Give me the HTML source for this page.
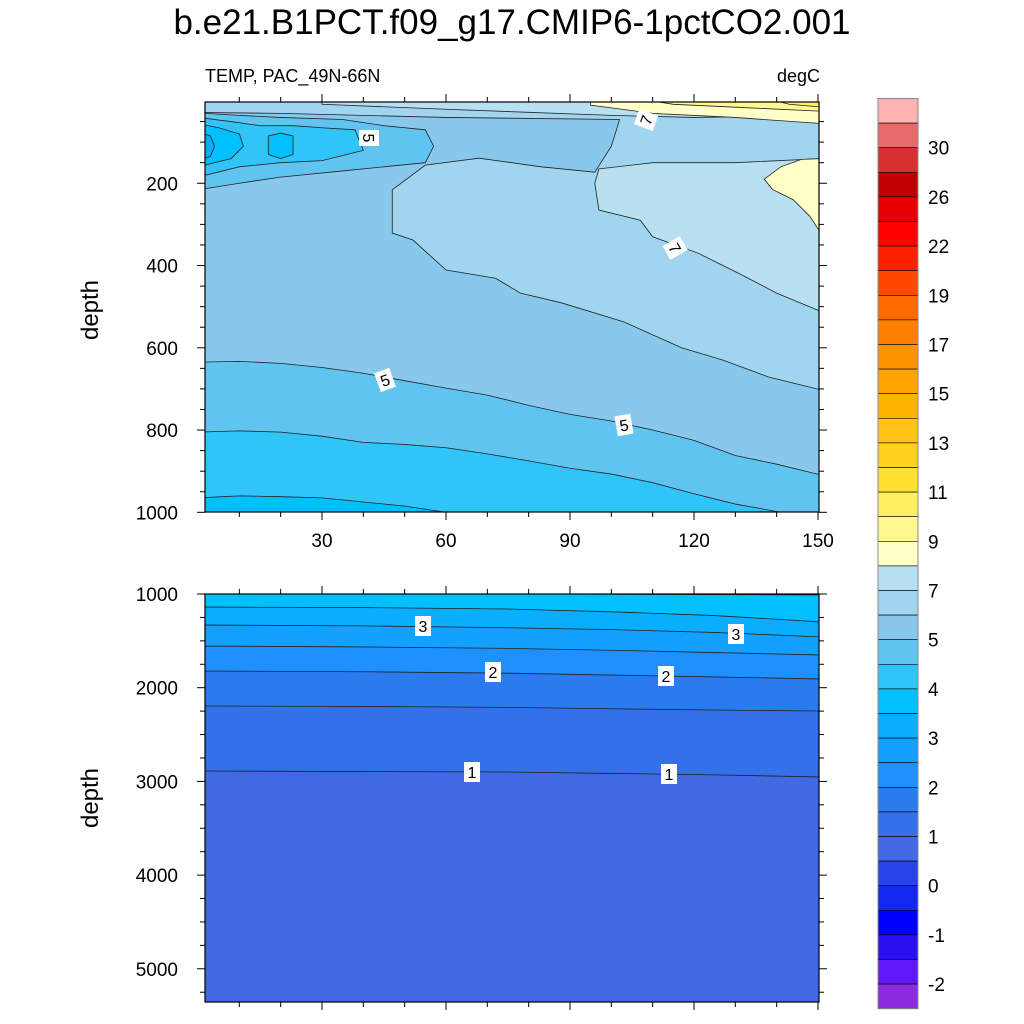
<!DOCTYPE html>
<html><head><meta charset="utf-8"><style>
html,body{margin:0;padding:0;background:#fff}
svg{display:block;font-family:"Liberation Sans",sans-serif}
</style></head><body>
<svg id="chart" width="1024" height="1024" viewBox="0 0 1024 1024" xmlns="http://www.w3.org/2000/svg">
<defs>
<clipPath id="clipTop"><rect x="205" y="102" width="614" height="410"/></clipPath>
<clipPath id="clipBot"><rect x="205" y="594" width="614" height="408"/></clipPath>
</defs>
<text x="512" y="34" font-size="35" text-anchor="middle">b.e21.B1PCT.f09_g17.CMIP6-1pctCO2.001</text>
<text x="205" y="82" font-size="18">TEMP, PAC_49N-66N</text>
<text x="820" y="82" font-size="18" text-anchor="end">degC</text>
<text transform="translate(98,310) rotate(-90)" font-size="24" text-anchor="middle">depth</text>
<text transform="translate(98,798) rotate(-90)" font-size="24" text-anchor="middle">depth</text>
<g id="topPanel"></g>
<g id="botPanel"></g>
<g id="colorbar"></g>
</svg>
<script>
// ---------- data ----------
const gridYears = [1,10,20,30,40,50,60,70,80,90,100,110,120,130,140,150];
const iso40 = [965,960,962,965,975,985,1000,1012,1020,1020,1020,1020,1020,1020,1020,1020];
const iso45 = [805,802,805,815,830,835,843,858,875,893,907,928,955,980,998,1010];
const iso50 = [635,633,638,648,662,680,698,715,740,762,778,800,825,862,883,910];
// explicit isoline polygons (year, depth)
const poly60 = [[0,0],[151,0],[151,703],[138,671],[127,630],[117,600],[103,537],[88,491],[78,467],[72,431],[60,411],[52,338],[47,321],[47,216],[55,156],[68,139],[83,160],[96,173],[100,110],[102,45],[60,40],[20,30],[0,28]];
const poly70a = [[30,0],[151,0],[151,35],[120,40],[100,35],[60,20],[30,8]];
const poly70b = [[97,165],[110,150],[130,150],[151,140],[151,513],[140,467],[131,420],[121,370],[110,330],[107,290],[97,265],[96,200]];
const poly80a = [[95,0],[151,0],[151,55],[130,40],[110,30],[95,10]];
const poly80b = [[151,140],[146,142],[141,160],[137,190],[139,215],[144,240],[148,280],[151,326]];
const poly90 = [[110,0],[151,0],[151,25],[130,15],[115,8]];
const poly100 = [[140,0],[151,0],[151,15],[143,8]];
const cold50 = [[0,29],[10,35],[20,40],[35,45],[45,60],[55,70],[57,110],[55,150],[45,160],[35,170],[20,185],[10,200],[0,216]];
const cold45 = [[0,40],[8,50],[15,60],[23,60],[30,65],[38,70],[40,120],[30,145],[20,150],[10,160],[0,185]];
const cold40a = [[0,55],[5,65],[10,80],[11,110],[8,140],[0,160]];
const cold40b = [[17,85],[20,78],[23,85],[23,130],[20,140],[17,130]];
const cold35 = [[0,75],[3,85],[4,110],[3,135],[0,145]];
// bottom panel isolines
const botYears = [1,40,75,100,125,150];
const b40 = [990,990,1000,1003,1006,1010];
const b35 = [1139,1145,1160,1190,1230,1299];
const b30 = [1331,1340,1360,1380,1410,1459];
const b25 = [1555,1565,1580,1600,1625,1651];
const b20 = [1822,1830,1845,1865,1885,1907];
const b15 = [2195,2200,2210,2225,2238,2249];
const b10 = [2889,2895,2900,2915,2930,2953];
// colorbar
const cbColors = ["#ffb3b3","#e86b6b","#d83030","#c00000","#e60000","#ff0000","#ff2000","#ff4800","#ff6a00","#ff8000","#ff9200","#ffa500","#ffb400","#ffc414","#ffd020","#ffe030","#ffee60","#fff890","#ffffc8","#b8e0f0","#a0d4ef","#88c8ec","#60c4f0","#30c4f8","#00c0ff","#0aaeff","#14a0ff","#1e90ff","#2a7cee","#3470e8","#4169e1","#2844e8","#1028f0","#0000ff","#2a10f0","#6018f8","#8a2be2"];
const cbLabels = ["30","26","22","19","17","15","13","11","9","7","5","4","3","2","1","0","-1","-2"];
const topYTicks = [200,400,600,800,1000];
const botYTicks = [1000,2000,3000,4000,5000];
const xTicks = [30,60,90,120,150];

// ---------- scales ----------
const NS = "http://www.w3.org/2000/svg";
const xS = yr => 198 + yr*4.1333;
const yT = d => 101 + d*0.4113;
const yB = d => 594 + (d-1000)*0.0937;
function mk(tag, attrs, parent){const e=document.createElementNS(NS,tag);for(const k in attrs)e.setAttribute(k,attrs[k]);parent.appendChild(e);return e;}
const topG = document.getElementById('topPanel');
const botG = document.getElementById('botPanel');
const cb = document.getElementById('colorbar');

const tg = mk('g',{'clip-path':'url(#clipTop)'},topG);
const bg = mk('g',{'clip-path':'url(#clipBot)'},botG);

function bandFromLine(g, years, depths, color, ys, name, topDepth){
  let d = `M${xS(0)},${ys(topDepth)} L${xS(151)},${ys(topDepth)}`;
  for(let i=years.length-1;i>=0;i--) d += ` L${i==years.length-1?xS(151):xS(years[i])},${ys(depths[i])}`;
  d += ` L${xS(0)},${ys(depths[0])} Z`;
  const p = mk('path',{d:d,fill:color},g);
  
  
  let l = '';
  years.forEach((y,i)=>{ l += (i?' L':'M') + (i==0?xS(0):(i==years.length-1?xS(151):xS(y))) + ',' + ys(depths[i]); });
  const ln = mk('path',{d:l,fill:'none',stroke:'#222',"stroke-width":0.8},g);
  
  
}
function polyBand(g, pts, color, ys, name){
  const d = pts.map((p,i)=>(i?'L':'M')+xS(p[0])+','+ys(p[1])).join(' ')+' Z';
  const p = mk('path',{d:d,fill:color,stroke:'#222',"stroke-width":0.8},g);
  
  
}

// top panel
const base = mk('rect',{x:205,y:102,width:614,height:410,fill:'#00c0ff'},tg);


bandFromLine(tg, gridYears, iso40, '#30c4f8', yT, 'iso-4', 0);
bandFromLine(tg, gridYears, iso45, '#60c4f0', yT, 'iso-4-5', 0);
bandFromLine(tg, gridYears, iso50, '#88c8ec', yT, 'iso-5', 0);
polyBand(tg, poly60, '#a0d4ef', yT, 'iso-6-region');
polyBand(tg, poly70a, '#b8e0f0', yT, 'iso-7-surface');
polyBand(tg, poly70b, '#b8e0f0', yT, 'iso-7-region');
polyBand(tg, poly80a, '#ffffc8', yT, 'iso-8-surface');
polyBand(tg, poly80b, '#ffffc8', yT, 'iso-8-region');
polyBand(tg, poly90, '#fff890', yT, 'iso-9-surface');
polyBand(tg, poly100, '#ffee60', yT, 'iso-10-surface');
polyBand(tg, cold50, '#60c4f0', yT, 'cold-core-5');
polyBand(tg, cold45, '#30c4f8', yT, 'cold-core-4-5');
polyBand(tg, cold40a, '#00c0ff', yT, 'cold-core-4');
polyBand(tg, cold40b, '#00c0ff', yT, 'cold-core-4b');
polyBand(tg, cold35, '#0aaeff', yT, 'cold-core-3-5');

// bottom panel
const bbase = mk('rect',{x:205,y:594,width:614,height:408,fill:'#4169e1'},bg);


bandFromLine(bg, botYears, b10, '#3470e8', yB, 'iso-1', 900);
bandFromLine(bg, botYears, b15, '#2a7cee', yB, 'iso-1-5', 900);
bandFromLine(bg, botYears, b20, '#1e90ff', yB, 'iso-2', 900);
bandFromLine(bg, botYears, b25, '#14a0ff', yB, 'iso-2-5', 900);
bandFromLine(bg, botYears, b30, '#0aaeff', yB, 'iso-3', 900);
bandFromLine(bg, botYears, b35, '#00c0ff', yB, 'iso-3-5', 900);
bandFromLine(bg, botYears, b40, '#30c4f8', yB, 'iso-4b', 900);

// contour labels
function clabel(parent, x, y, txt, rot, name){
  const g = mk('g',{transform:`translate(${x},${y}) rotate(${rot})`},parent);
  
  
  mk('rect',{x:-8,y:-10,width:16,height:20,fill:'#fff'},g);
  const t = mk('text',{x:0,y:6,'font-size':16,'text-anchor':'middle'},g);
  t.textContent = txt;
}
clabel(topG,369,138,'5',90,'contour-label-5a');
clabel(topG,646,120,'7',-70,'contour-label-7a');
clabel(topG,675,248,'7',60,'contour-label-7b');
clabel(topG,385,380,'5',-20,'contour-label-5b');
clabel(topG,624,425,'5',-10,'contour-label-5c');
clabel(botG,423,626,'3',0,'contour-label-3a');
clabel(botG,736,634,'3',0,'contour-label-3b');
clabel(botG,493,672,'2',0,'contour-label-2a');
clabel(botG,666,676,'2',0,'contour-label-2b');
clabel(botG,472,772,'1',0,'contour-label-1a');
clabel(botG,669,774,'1',0,'contour-label-1b');

// frames and ticks
function frame(parent, y0, y1, name){
  const r = mk('rect',{x:205,y:y0,width:614,height:y1-y0,fill:'none',stroke:'#000','stroke-width':1.2},parent);
  
  
}
frame(topG,102,512,'top-plot-frame');
frame(botG,594,1002,'bottom-plot-frame');
function xticks(parent, y0, y1, labels){
  for(let yr=10; yr<=150; yr+=10){
    const x = xS(yr); const maj = yr%30==0; const L = maj?8:5;
    mk('line',{x1:x,x2:x,y1:y0,y2:y0-L,stroke:'#000','stroke-width':1},parent);
    mk('line',{x1:x,x2:x,y1:y1,y2:y1+L,stroke:'#000','stroke-width':1},parent);
  }
  if(labels) xTicks.forEach(v=>{
    const t = mk('text',{x:xS(v),y:y1+35,'font-size':19,'text-anchor':'middle'},parent);
    
    
    t.textContent = v;
  });
}
xticks(topG,102,512,true);
xticks(botG,594,1002,false);
for(let d=50; d<=1000; d+=50){
  const y = yT(d); const maj = d%200==0; const L = maj?8:5;
  mk('line',{x1:205,x2:205-L,y1:y,y2:y,stroke:'#000'},topG);
  mk('line',{x1:819,x2:819+L,y1:y,y2:y,stroke:'#000'},topG);
}
topYTicks.forEach(v=>{
  const t = mk('text',{x:178,y:yT(v)+7,'font-size':19,'text-anchor':'end'},topG);
  
  
  t.textContent = v;
});
for(let d=1000; d<=5350; d+=250){
  const y = yB(d); const maj = d%1000==0; const L = maj?8:5;
  mk('line',{x1:205,x2:205-L,y1:y,y2:y,stroke:'#000'},botG);
  mk('line',{x1:819,x2:819+L,y1:y,y2:y,stroke:'#000'},botG);
}
botYTicks.forEach(v=>{
  const t = mk('text',{x:178,y:yB(v)+7,'font-size':19,'text-anchor':'end'},botG);
  
  
  t.textContent = v;
});

// colorbar
const cbTop = 98.5, boxH = 24.6;
cbColors.forEach((c,i)=>{
  const r = mk('rect',{x:878,y:cbTop+i*boxH,width:40,height:boxH,fill:c,stroke:'#000','stroke-width':0.6},cb);
  
  
});
mk('rect',{x:878,y:cbTop,width:40,height:boxH*cbColors.length,fill:'none',stroke:'#888','stroke-width':1},cb);
cbLabels.forEach((l,i)=>{
  const t = mk('text',{x:928,y:cbTop+(2+2*i)*boxH+7,'font-size':19},cb);
  
  
  t.textContent = l;
});
</script>
</body></html>
